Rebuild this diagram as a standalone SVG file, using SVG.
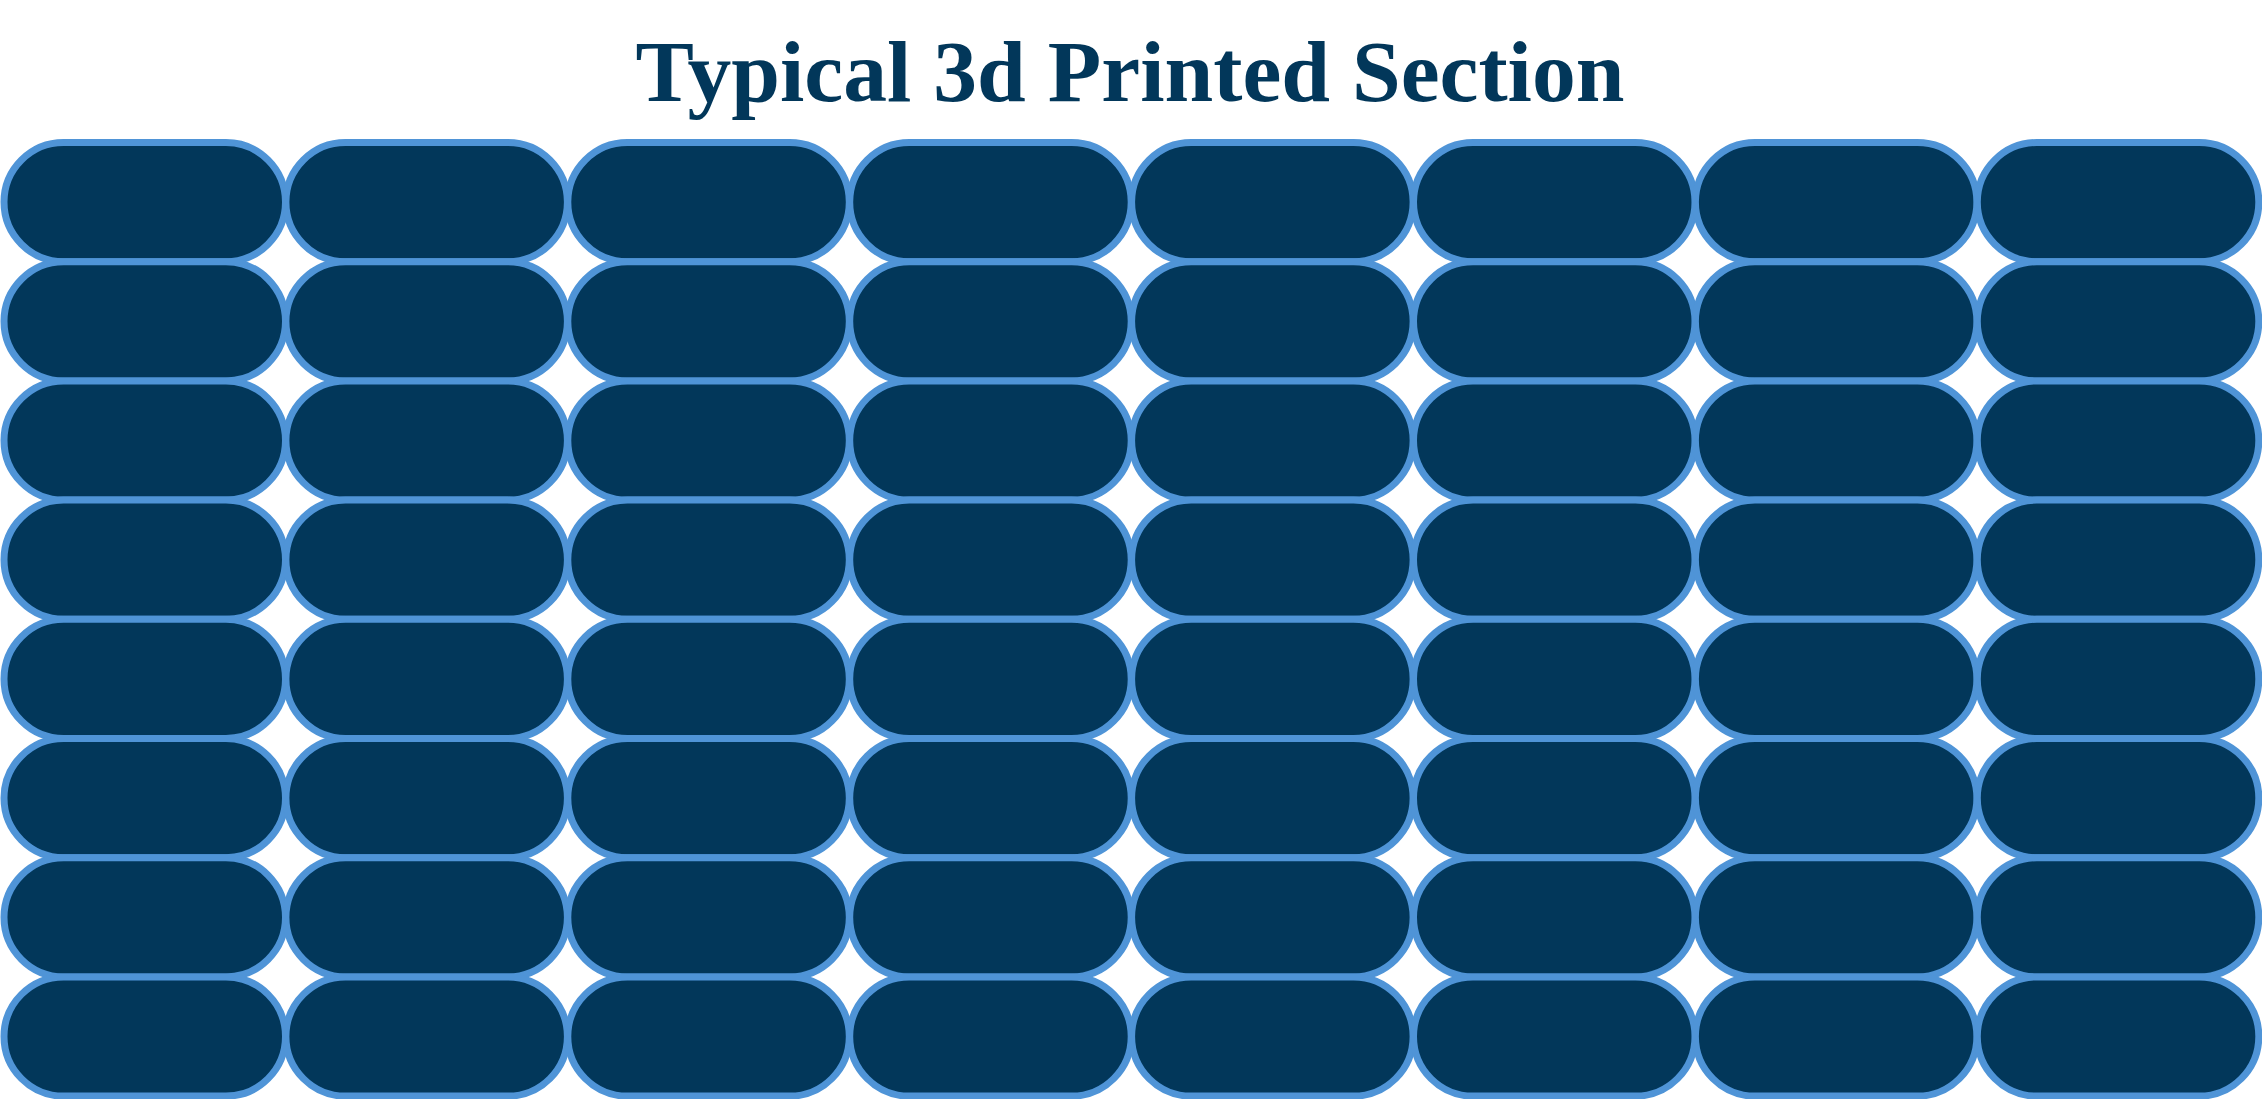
<svg xmlns="http://www.w3.org/2000/svg" width="2262" height="1099" viewBox="0 0 2262 1099">
<style>
.pill{fill:#02375A;stroke:#4F94D7;stroke-width:7}
.title{font-family:"Liberation Serif","Times New Roman",serif;font-weight:bold;font-size:87px;fill:#02375A}
</style>
<rect width="2262" height="1099" fill="#ffffff"/>
<g id="title"><text class="title" x="1130" y="101" text-anchor="middle" textLength="989" lengthAdjust="spacingAndGlyphs">Typical 3d Printed Section</text></g>
<g id="nodes">
<g id="r1c1"><rect class="pill" x="4" y="142.5" width="281.5" height="119.2" rx="59.6"/></g>
<g id="r1c2"><rect class="pill" x="285.9" y="142.5" width="281.5" height="119.2" rx="59.6"/></g>
<g id="r1c3"><rect class="pill" x="567.8" y="142.5" width="281.5" height="119.2" rx="59.6"/></g>
<g id="r1c4"><rect class="pill" x="849.7" y="142.5" width="281.5" height="119.2" rx="59.6"/></g>
<g id="r1c5"><rect class="pill" x="1131.6" y="142.5" width="281.5" height="119.2" rx="59.6"/></g>
<g id="r1c6"><rect class="pill" x="1413.5" y="142.5" width="281.5" height="119.2" rx="59.6"/></g>
<g id="r1c7"><rect class="pill" x="1695.4" y="142.5" width="281.5" height="119.2" rx="59.6"/></g>
<g id="r1c8"><rect class="pill" x="1977.3" y="142.5" width="281.5" height="119.2" rx="59.6"/></g>
<g id="r2c1"><rect class="pill" x="4" y="261.7" width="281.5" height="119.2" rx="59.6"/></g>
<g id="r2c2"><rect class="pill" x="285.9" y="261.7" width="281.5" height="119.2" rx="59.6"/></g>
<g id="r2c3"><rect class="pill" x="567.8" y="261.7" width="281.5" height="119.2" rx="59.6"/></g>
<g id="r2c4"><rect class="pill" x="849.7" y="261.7" width="281.5" height="119.2" rx="59.6"/></g>
<g id="r2c5"><rect class="pill" x="1131.6" y="261.7" width="281.5" height="119.2" rx="59.6"/></g>
<g id="r2c6"><rect class="pill" x="1413.5" y="261.7" width="281.5" height="119.2" rx="59.6"/></g>
<g id="r2c7"><rect class="pill" x="1695.4" y="261.7" width="281.5" height="119.2" rx="59.6"/></g>
<g id="r2c8"><rect class="pill" x="1977.3" y="261.7" width="281.5" height="119.2" rx="59.6"/></g>
<g id="r3c1"><rect class="pill" x="4" y="380.9" width="281.5" height="119.2" rx="59.6"/></g>
<g id="r3c2"><rect class="pill" x="285.9" y="380.9" width="281.5" height="119.2" rx="59.6"/></g>
<g id="r3c3"><rect class="pill" x="567.8" y="380.9" width="281.5" height="119.2" rx="59.6"/></g>
<g id="r3c4"><rect class="pill" x="849.7" y="380.9" width="281.5" height="119.2" rx="59.6"/></g>
<g id="r3c5"><rect class="pill" x="1131.6" y="380.9" width="281.5" height="119.2" rx="59.6"/></g>
<g id="r3c6"><rect class="pill" x="1413.5" y="380.9" width="281.5" height="119.2" rx="59.6"/></g>
<g id="r3c7"><rect class="pill" x="1695.4" y="380.9" width="281.5" height="119.2" rx="59.6"/></g>
<g id="r3c8"><rect class="pill" x="1977.3" y="380.9" width="281.5" height="119.2" rx="59.6"/></g>
<g id="r4c1"><rect class="pill" x="4" y="500.1" width="281.5" height="119.2" rx="59.6"/></g>
<g id="r4c2"><rect class="pill" x="285.9" y="500.1" width="281.5" height="119.2" rx="59.6"/></g>
<g id="r4c3"><rect class="pill" x="567.8" y="500.1" width="281.5" height="119.2" rx="59.6"/></g>
<g id="r4c4"><rect class="pill" x="849.7" y="500.1" width="281.5" height="119.2" rx="59.6"/></g>
<g id="r4c5"><rect class="pill" x="1131.6" y="500.1" width="281.5" height="119.2" rx="59.6"/></g>
<g id="r4c6"><rect class="pill" x="1413.5" y="500.1" width="281.5" height="119.2" rx="59.6"/></g>
<g id="r4c7"><rect class="pill" x="1695.4" y="500.1" width="281.5" height="119.2" rx="59.6"/></g>
<g id="r4c8"><rect class="pill" x="1977.3" y="500.1" width="281.5" height="119.2" rx="59.6"/></g>
<g id="r5c1"><rect class="pill" x="4" y="619.3" width="281.5" height="119.2" rx="59.6"/></g>
<g id="r5c2"><rect class="pill" x="285.9" y="619.3" width="281.5" height="119.2" rx="59.6"/></g>
<g id="r5c3"><rect class="pill" x="567.8" y="619.3" width="281.5" height="119.2" rx="59.6"/></g>
<g id="r5c4"><rect class="pill" x="849.7" y="619.3" width="281.5" height="119.2" rx="59.6"/></g>
<g id="r5c5"><rect class="pill" x="1131.6" y="619.3" width="281.5" height="119.2" rx="59.6"/></g>
<g id="r5c6"><rect class="pill" x="1413.5" y="619.3" width="281.5" height="119.2" rx="59.6"/></g>
<g id="r5c7"><rect class="pill" x="1695.4" y="619.3" width="281.5" height="119.2" rx="59.6"/></g>
<g id="r5c8"><rect class="pill" x="1977.3" y="619.3" width="281.5" height="119.2" rx="59.6"/></g>
<g id="r6c1"><rect class="pill" x="4" y="738.5" width="281.5" height="119.2" rx="59.6"/></g>
<g id="r6c2"><rect class="pill" x="285.9" y="738.5" width="281.5" height="119.2" rx="59.6"/></g>
<g id="r6c3"><rect class="pill" x="567.8" y="738.5" width="281.5" height="119.2" rx="59.6"/></g>
<g id="r6c4"><rect class="pill" x="849.7" y="738.5" width="281.5" height="119.2" rx="59.6"/></g>
<g id="r6c5"><rect class="pill" x="1131.6" y="738.5" width="281.5" height="119.2" rx="59.6"/></g>
<g id="r6c6"><rect class="pill" x="1413.5" y="738.5" width="281.5" height="119.2" rx="59.6"/></g>
<g id="r6c7"><rect class="pill" x="1695.4" y="738.5" width="281.5" height="119.2" rx="59.6"/></g>
<g id="r6c8"><rect class="pill" x="1977.3" y="738.5" width="281.5" height="119.2" rx="59.6"/></g>
<g id="r7c1"><rect class="pill" x="4" y="857.7" width="281.5" height="119.2" rx="59.6"/></g>
<g id="r7c2"><rect class="pill" x="285.9" y="857.7" width="281.5" height="119.2" rx="59.6"/></g>
<g id="r7c3"><rect class="pill" x="567.8" y="857.7" width="281.5" height="119.2" rx="59.6"/></g>
<g id="r7c4"><rect class="pill" x="849.7" y="857.7" width="281.5" height="119.2" rx="59.6"/></g>
<g id="r7c5"><rect class="pill" x="1131.6" y="857.7" width="281.5" height="119.2" rx="59.6"/></g>
<g id="r7c6"><rect class="pill" x="1413.5" y="857.7" width="281.5" height="119.2" rx="59.6"/></g>
<g id="r7c7"><rect class="pill" x="1695.4" y="857.7" width="281.5" height="119.2" rx="59.6"/></g>
<g id="r7c8"><rect class="pill" x="1977.3" y="857.7" width="281.5" height="119.2" rx="59.6"/></g>
<g id="r8c1"><rect class="pill" x="4" y="976.9" width="281.5" height="119.2" rx="59.6"/></g>
<g id="r8c2"><rect class="pill" x="285.9" y="976.9" width="281.5" height="119.2" rx="59.6"/></g>
<g id="r8c3"><rect class="pill" x="567.8" y="976.9" width="281.5" height="119.2" rx="59.6"/></g>
<g id="r8c4"><rect class="pill" x="849.7" y="976.9" width="281.5" height="119.2" rx="59.6"/></g>
<g id="r8c5"><rect class="pill" x="1131.6" y="976.9" width="281.5" height="119.2" rx="59.6"/></g>
<g id="r8c6"><rect class="pill" x="1413.5" y="976.9" width="281.5" height="119.2" rx="59.6"/></g>
<g id="r8c7"><rect class="pill" x="1695.4" y="976.9" width="281.5" height="119.2" rx="59.6"/></g>
<g id="r8c8"><rect class="pill" x="1977.3" y="976.9" width="281.5" height="119.2" rx="59.6"/></g>
</g>
</svg>
